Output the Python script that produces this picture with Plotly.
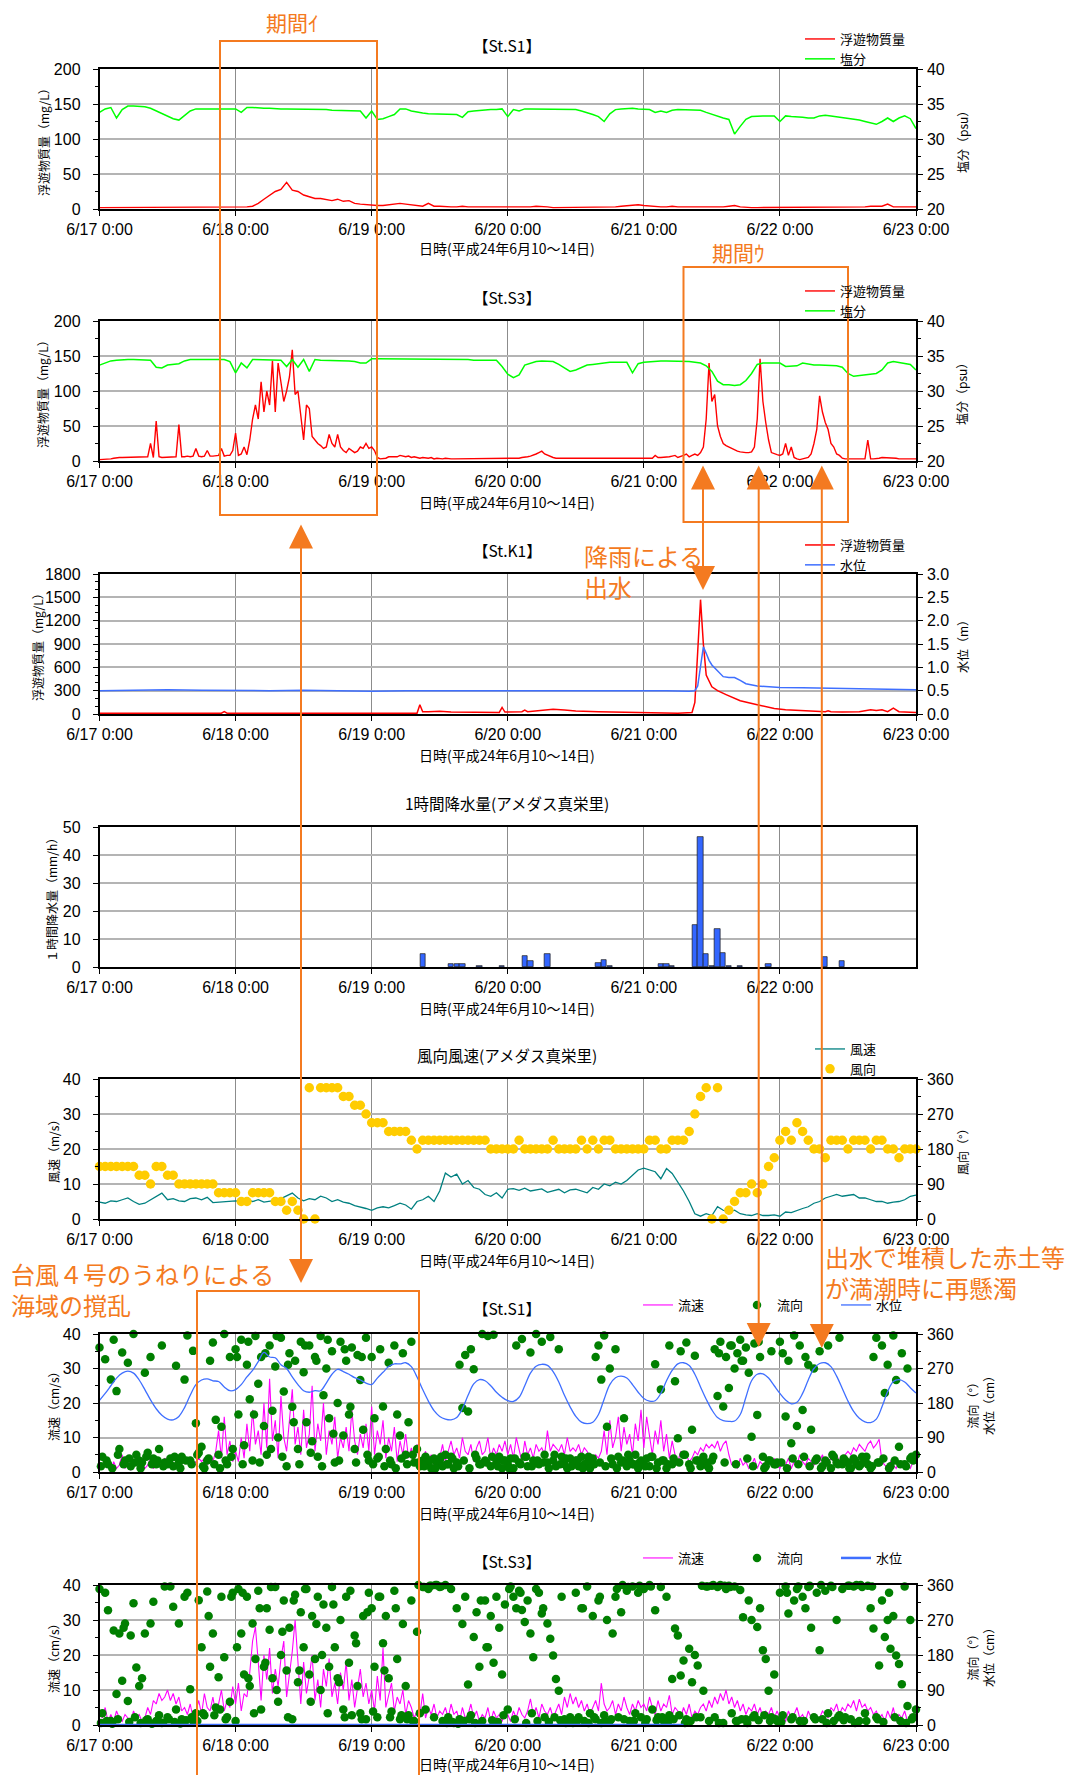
import plotly.graph_objects as go

W, H = 1073, 1775          # browser window
OFF = 8                    # page body margin of the html page
WF, HF = W - OFF, H - OFF  # figure size so that the chart fills the window
JP = "Noto Sans CJK JP"
NUMF = "Liberation Sans, Arial, sans-serif"
ORANGE = "#F47A20"

# ---------------- data ----------------
day_ticks = [0, 24, 48, 72, 96, 120, 144]
day_labels = ["6/17 0:00", "6/18 0:00", "6/19 0:00", "6/20 0:00",
              "6/21 0:00", "6/22 0:00", "6/23 0:00"]
x_title = "日時(平成24年6月10〜14日)"

hours = list(range(145))                    # hourly stamps, h since 6/17 0:00
half_hours = [i / 2 for i in range(289)]    # 30-min stamps
quarter_hours = [h + 0.25 for h in hours]   # hourly stamps offset by 15 min

# St.S1 suspended solids (mg/L), hourly
s1_ss = [2, 2, 2, 2, 2, 2, 2, 2, 3, 3, 3, 3, 3, 3, 3, 3, 3, 3, 3, 3, 3, 3, 3, 3,
         3, 3, 3, 4, 8, 14, 20, 25, 28, 38, 27, 25, 20, 17, 15, 15, 13, 12, 14, 11, 12, 8, 7, 6,
         5, 5, 5, 6, 8, 8, 7, 6, 5, 4, 8, 4, 4, 3, 3, 3, 4, 3, 3, 2, 2, 2, 2, 2,
         2, 2, 2, 2, 3, 4, 4, 3, 2, 2, 2, 2, 2, 3, 3, 3, 3, 3, 3, 3, 4, 5, 6, 6,
         5, 4, 4, 3, 3, 4, 3, 3, 2, 2, 2, 2, 2, 2, 3, 4, 5, 3, 2, 2, 2, 2, 2, 2,
         2, 2, 2, 2, 2, 2, 3, 3, 3, 3, 3, 3, 3, 3, 3, 3, 4, 4, 4, 7, 3, 3, 3, 3, 3]
# St.S1 salinity (psu), hourly
s1_sal = [33.8, 34.3, 34.5, 33.0, 34.2, 34.7, 34.7, 34.7, 34.6, 34.4, 34.0, 33.7,
          33.3, 32.9, 32.7, 33.4, 34.0, 34.3, 34.3, 34.3, 34.3, 34.2, 34.3, 34.3,
          34.3, 33.8, 34.5, 34.5, 34.4, 34.4, 34.4, 34.3, 34.3, 34.3, 34.3, 34.2,
          34.2, 34.2, 34.2, 34.2, 34.2, 34.1, 34.1, 34.1, 34.1, 34.0, 34.0, 33.0,
          34.0, 32.8, 32.9, 33.2, 33.5, 34.3, 34.3, 34.0, 33.8, 33.7, 33.6, 33.6,
          33.6, 33.5, 33.6, 33.5, 33.1, 33.9, 34.0, 34.1, 34.2, 34.2, 34.2, 34.3,
          33.2, 34.2, 34.0, 34.3, 34.3, 34.3, 34.3, 34.3, 34.3, 34.3, 34.3, 34.3,
          34.2, 34.0, 33.8, 33.5, 33.2, 32.5, 33.6, 34.2, 34.3, 34.4, 34.4, 34.3,
          34.3, 34.2, 33.8, 34.0, 33.8, 34.1, 34.2, 34.2, 34.2, 34.2, 34.1, 33.8,
          33.5, 33.3, 33.0, 32.8, 30.7, 31.8, 32.8, 33.2, 33.3, 33.3, 33.3, 33.3,
          32.5, 33.3, 33.2, 33.2, 33.1, 33.0, 33.0, 33.3, 33.4, 33.3, 33.2, 33.1,
          33.0, 32.8, 32.7, 32.5, 32.3, 32.1, 32.5, 33.0, 32.5, 33.0, 33.3, 32.9, 31.5]

# St.S3 suspended solids (mg/L), 30-min
s3_ss = [2, 2, 2, 3, 3, 4, 5, 5, 5, 5, 5, 6, 5, 5, 5, 5, 5, 6, 25, 5, 57, 6, 5, 5,
         5, 6, 6, 6, 52, 6, 6, 7, 6, 7, 18, 7, 6, 7, 15, 7, 7, 8, 8, 18, 7, 8, 8, 15,
         40, 8, 10, 20, 9, 30, 60, 80, 60, 113, 70, 100, 80, 143, 70, 140, 110, 85, 100, 120, 159, 95, 100, 60,
         30, 80, 75, 35, 30, 25, 22, 18, 20, 38, 25, 20, 38, 20, 15, 12, 18, 15, 12, 14, 20, 18, 25, 18,
         20, 15, 5, 3, 3, 4, 6, 6, 7, 6, 8, 7, 6, 7, 5, 6, 5, 4, 5, 4, 4, 5, 3, 4,
         3, 3, 4, 3, 3, 3, 3, 4, 3, 3, 3, 3, 3, 3, 3, 3, 4, 3, 3, 3, 3, 3, 3, 3,
         3, 3, 3, 4, 4, 5, 5, 6, 7, 8, 10, 12, 14, 10, 8, 6, 5, 4, 4, 3, 3, 3, 3, 3,
         3, 3, 3, 3, 3, 4, 3, 3, 3, 3, 3, 3, 3, 4, 3, 3, 3, 3, 3, 3, 4, 3, 3, 3,
         3, 3, 4, 4, 8, 5, 5, 5, 5, 6, 7, 8, 5, 6, 8, 10, 6, 8, 10, 8, 12, 20, 60, 140,
         85, 95, 50, 35, 25, 22, 20, 18, 15, 14, 13, 12, 12, 12, 13, 20, 60, 146, 85, 55, 30, 12, 10, 9,
         8, 10, 25, 8, 20, 5, 3, 2, 3, 4, 5, 10, 25, 45, 93, 70, 55, 45, 25, 20, 10, 8, 4, 3,
         3, 3, 3, 3, 3, 3, 3, 30, 3, 3, 3, 4, 5, 5, 4, 5, 5, 4, 3, 3, 4, 3, 3, 3,
         3]
# St.S3 salinity (psu), hourly
s3_sal = [33.7, 34.0, 34.3, 34.4, 34.5, 34.5, 34.5, 34.5, 34.5, 34.4, 33.4, 33.3,
          33.7, 33.8, 33.9, 34.3, 34.5, 34.5, 34.5, 34.5, 34.5, 34.5, 34.5, 34.2,
          32.6, 34.0, 33.3, 34.5, 34.5, 34.5, 34.5, 34.5, 34.4, 33.5, 34.5, 33.4,
          34.5, 32.8, 34.5, 34.4, 34.4, 34.4, 34.4, 34.4, 34.3, 34.2, 34.0, 34.0,
          34.6, 34.6, 34.6, 34.6, 34.6, 34.6, 34.6, 34.6, 34.6, 34.6, 34.6, 34.6,
          34.6, 34.5, 34.5, 34.5, 34.5, 34.5, 34.4, 34.4, 34.4, 34.4, 34.4, 33.5,
          32.4, 31.9, 32.3, 33.7, 34.0, 34.2, 34.3, 34.3, 34.2, 33.8, 33.3, 32.8,
          33.0, 33.3, 33.7, 33.8, 33.9, 34.1, 34.1, 34.1, 34.1, 34.1, 32.6, 33.9,
          34.1, 34.2, 34.2, 34.3, 34.3, 34.3, 34.3, 34.3, 34.2, 34.1, 34.0, 33.6,
          32.8, 31.4, 30.9, 30.9, 30.8, 30.9, 31.5, 32.5, 33.8, 34.0, 34.0, 34.0,
          34.0, 33.5, 33.5, 33.6, 34.0, 33.8, 33.7, 33.7, 33.7, 33.7, 33.6, 33.4,
          32.5, 32.1, 32.2, 32.3, 32.4, 32.5, 33.0, 34.0, 34.2, 34.1, 34.0, 33.8, 33.0]

# St.K1 suspended solids (mg/L) and water level (m), irregular stamps
k1_ss_t = [0, 10, 21.5, 22, 22.5, 30, 40, 50, 56, 56.5, 57, 58, 60, 62, 66, 70.5, 71, 71.5,
           74.5, 75, 75.5, 78, 80, 82, 84, 88, 93, 96, 99, 102, 104.5, 105, 105.5, 106, 106.5,
           107, 108, 109, 110.5, 113, 116, 117, 119, 121, 124, 126, 128, 128.5, 129, 131, 134,
           136, 137, 138, 139, 140, 141, 144]
k1_ss = [10, 10, 10, 30, 10, 10, 10, 10, 10, 120, 30, 30, 35, 25, 20, 20, 85, 25,
         30, 50, 30, 45, 60, 50, 40, 30, 25, 20, 15, 10, 20, 150, 800, 1470, 900,
         500, 350, 300, 250, 170, 120, 100, 70, 55, 45, 40, 30, 40, 30, 25, 30,
         55, 45, 55, 30, 75, 30, 20]
k1_lv_t = [0, 6, 12, 18, 24, 30, 36, 42, 48, 54, 60, 66, 72, 78, 84, 90, 96, 100, 104, 105,
           105.5, 106, 106.5, 107, 107.5, 108, 109, 110, 111, 112, 113, 114, 116, 118, 120,
           124, 128, 132, 136, 140, 144]
k1_lv = [0.50, 0.51, 0.52, 0.51, 0.50, 0.50, 0.51, 0.50, 0.49, 0.50, 0.50, 0.51, 0.51, 0.50,
         0.50, 0.50, 0.50, 0.50, 0.49, 0.50, 0.60, 1.00, 1.44, 1.30, 1.15, 1.05, 0.92, 0.80,
         0.78, 0.78, 0.72, 0.65, 0.60, 0.58, 0.57, 0.56, 0.55, 0.54, 0.53, 0.52, 0.52]

# hourly precipitation (AMeDAS Maezato), only non-zero hours
rain_hour = [57, 62, 63, 64, 67, 71, 75, 76, 79, 88, 89, 90, 99, 100, 101,
             105, 106, 107, 108, 109, 110, 111, 113, 118, 128, 131]
rain_mm = [4.5, 1, 1, 1, 0.5, 0.5, 4, 2, 4.5, 1.5, 2.5, 0.5, 1, 1, 0.5,
           15, 46.5, 4.5, 0.5, 13.5, 5, 0.5, 0.5, 1, 3.5, 2]

# wind speed (m/s) and direction (deg), hourly
wind_spd = [4.8, 4.5, 5.2, 5.0, 5.5, 6.0, 5.0, 4.2, 4.5, 5.5, 6.5, 7.4,
            5.5, 5.8, 5.2, 5.0, 5.8, 6.0, 5.5, 6.2, 4.7, 4.8, 5.0, 5.2,
            5.2, 5.0, 5.4, 5.0, 5.5, 4.8, 5.0, 5.3, 5.8, 6.5, 7.4, 6.0,
            5.2, 5.8, 5.5, 6.5, 6.0, 5.0, 5.5, 4.8, 4.5, 3.8, 3.5, 3.0,
            2.5, 3.2, 3.5, 3.2, 3.8, 4.5, 4.0, 2.8, 5.0, 5.5, 6.5, 5.0,
            8.0, 13.1, 12.0, 12.8, 10.0, 11.0, 9.0, 8.5, 7.0, 6.5, 7.5, 6.0,
            8.5, 8.7, 8.2, 8.8, 8.0, 8.4, 8.6, 7.6, 8.0, 8.5, 7.5, 8.3,
            8.5, 8.0, 7.5, 9.0, 8.5, 10.0, 9.5, 10.5, 10.0, 11.0, 12.5, 14.0,
            14.5, 14.0, 13.5, 11.5, 14.4, 13.0, 10.5, 8.0, 5.0, 1.5, 0.8, 1.5,
            1.0, 3.5, 2.5, 2.0, 2.5, 1.5, 1.2, 1.0, 1.5, 1.0, 1.0, 1.2,
            0.8, 2.0, 1.8, 2.5, 3.0, 3.5, 4.5, 5.0, 6.0, 6.5, 7.0, 6.5,
            6.8, 7.0, 6.0, 6.0, 5.5, 5.0, 5.0, 4.5, 4.8, 5.0, 5.5, 6.5, 6.8]
wind_dir = [135, 135, 135, 135, 135, 135, 135, 112.5, 112.5, 90, 135, 135,
            112.5, 112.5, 90, 90, 90, 90, 90, 90, 90, 67.5, 67.5, 67.5,
            67.5, 45, 45, 67.5, 67.5, 67.5, 67.5, 45, 45, 22.5, 45, 22.5,
            0, 337.5, 0, 337.5, 337.5, 337.5, 337.5, 315, 315, 292.5, 292.5, 270,
            247.5, 247.5, 247.5, 225, 225, 225, 225, 202.5, 180, 202.5, 202.5, 202.5,
            202.5, 202.5, 202.5, 202.5, 202.5, 202.5, 202.5, 202.5, 202.5, 180, 180, 180,
            180, 180, 202.5, 180, 180, 180, 180, 180, 202.5, 180, 180, 180,
            180, 202.5, 180, 202.5, 180, 202.5, 202.5, 180, 180, 180, 180, 180,
            180, 202.5, 202.5, 180, 180, 202.5, 202.5, 202.5, 225, 270, 315, 337.5,
            0, 337.5, 0, 22.5, 45, 67.5, 67.5, 90, 67.5, 90, 135, 157.5,
            202.5, 225, 202.5, 247.5, 225, 202.5, 180, 180, 157.5, 202.5, 202.5, 202.5,
            180, 202.5, 202.5, 202.5, 180, 202.5, 202.5, 180, 180, 157.5, 180, 180, 180]

# St.S1 current: speed (cm/s, 30-min), direction (deg, 30-min + extra hourly), level (cm, hourly)
s1_spd = [3, 1, 4, 2, 0.5, 3, 1, 2, 5, 1, 3, 0.5, 2, 4, 1, 3, 1, 2, 4, 1, 2, 3, 1, 4,
          3, 2, 4, 3, 2, 4, 3, 3, 4, 2, 3, 4, 3, 4, 2, 5, 3, 6, 12, 4, 16, 5, 9, 3,
          6, 3, 10, 4, 14, 6, 18, 8, 12, 5, 20, 7, 27, 9, 15, 4, 22, 10, 6, 16, 24, 8, 13, 5,
          18, 7, 11, 25, 6, 14, 9, 20, 5, 12, 8, 16, 4, 10, 7, 13, 6, 18, 9, 5, 11, 7, 14, 6,
          19, 5, 12, 8, 15, 4, 10, 6, 13, 3, 9, 5, 11, 4, 7, 3, 8, 2, 4, 6, 3, 5, 2, 4,
          4, 8, 3, 6, 9, 5, 7, 4, 10, 6, 5, 8, 3, 7, 9, 5, 6, 10, 4, 7, 5, 8, 6, 9,
          5, 8, 4, 10, 6, 3, 9, 5, 7, 4, 8, 6, 7, 5, 12, 6, 8, 7, 6, 8, 5, 10, 6, 7,
          6, 8, 5, 7, 6, 4, 3, 5, 4, 6, 12, 5, 15, 7, 10, 16, 6, 13, 8, 11, 5, 14, 9, 18,
          7, 16, 10, 5, 12, 8, 15, 6, 11, 4, 9, 5, 3, 6, 4, 5, 3, 4, 6, 5, 7, 6, 8, 7,
          8, 7, 9, 6, 8, 9, 5, 2, 3, 1, 4, 2, 3, 1, 2, 4, 1, 3, 2, 1, 3, 2, 4, 2,
          1, 3, 2, 4, 1, 3, 2, 5, 3, 2, 4, 3, 2, 4, 3, 5, 2, 3, 4, 3, 5, 3, 4, 5,
          6, 5, 7, 6, 8, 7, 6, 8, 9, 7, 8, 9.5, 3, 2, 1, 3, 2, 1, 3, 2, 1, 2, 1, 3,
          5]
s1_dir = [325, 40, 294, 20, 241, 345, 211, 60, 312, 30, 285, 15, 360, 45, 30, 25, 259, 50, 300, 35, 20, 60, 330, 25,
          20, 35, 15, 277, 25, 40, 241, 356, 30, 316, 127, 50, 66, 10, 30, 290, 338, 136, 45, 118, 360, 20, 300, 60,
          320, 150, 345, 70, 280, 190, 30, 355, 230, 300, 120, 45, 330, 160, 275, 90, 350, 210, 15, 310, 170, 290, 60, 340,
          260, 130, 330, 80, 300, 40, 355, 200, 270, 140, 315, 25, 180, 340, 95, 290, 150, 325, 60, 305, 240, 110, 350, 30,
          300, 140, 35, 320, 171, 60, 285, 20, 330, 150, 95, 310, 45, 130, 340, 25, 60, 15, 30, 40, 20, 10, 35, 25,
          30, 15, 45, 20, 40, 10, 25, 280, 167, 305, 158, 320, 268, 35, 20, 360, 30, 355, 15, 358, 25, 40, 10, 30,
          20, 35, 10, 330, 25, 347, 40, 15, 312, 30, 360, 20, 340, 45, 25, 352, 30, 15, 320, 40, 20, 10, 35, 25,
          30, 15, 40, 20, 25, 10, 35, 300, 330, 241, 356, 118, 270, 20, 320, 40, 25, 140, 15, 30, 20, 45, 10, 30,
          20, 35, 15, 40, 281, 25, 215, 30, 10, 330, 20, 237, 88, 315, 45, 338, 20, 110, 303, 30, 15, 40, 25, 10,
          30, 320, 198, 340, 171, 300, 219, 330, 270, 310, 345, 290, 325, 259, 92, 335, 149, 300, 40, 15, 30, 315, 20, 25,
          340, 310, 145, 290, 75, 356, 120, 330, 162, 300, 280, 110, 270, 35, 315, 15, 30, 330, 10, 40, 25, 350, 20, 30,
          25, 10, 35, 20, 15, 40, 30, 20, 10, 300, 350, 25, 330, 206, 280, 15, 356, 240, 66, 310, 20, 270, 35, 30,
          45]
s1_dir_b = [15, 30, 10, 45, 20, 35, 25, 10, 40, 20, 30, 15,
            25, 40, 10, 30, 20, 45, 15, 35, 20, 10, 30, 40,
            300, 20, 340, 150, 25, 310, 60, 355, 40, 280, 130, 20,
            330, 50, 290, 15, 345, 100, 30, 320, 170, 25, 300, 45,
            20, 40, 15, 30, 10, 35, 20, 45, 25, 15, 30, 10,
            40, 20, 35, 15, 30, 10, 45, 20, 25, 40, 15, 30,
            10, 35, 20, 40, 15, 30, 25, 10, 45, 20, 35, 15,
            30, 10, 40, 20, 25, 15, 35, 10, 30, 45, 20, 25,
            15, 40, 10, 30, 20, 35, 25, 45, 10, 30, 20, 15,
            40, 310, 25, 330, 20, 290, 35, 15, 340, 10, 30, 20,
            25, 10, 35, 20, 40, 15, 30, 10, 25, 45, 20, 35,
            10, 30, 20, 40, 15, 25, 35, 10, 30, 20, 15, 40, 25]
s1_lv = [187, 205, 225, 245, 258, 263, 258, 240, 215, 188, 165, 148,
         138, 136, 145, 168, 200, 228, 240, 243, 238, 236, 222, 212,
         215, 228, 248, 265, 288, 312, 300, 298, 280, 270, 248, 228,
         212, 208, 212, 212, 232, 255, 268, 262, 255, 246, 240, 232,
         228, 245, 260, 275, 282, 282, 285, 275, 248, 215, 185, 160,
         145, 138, 136, 142, 165, 200, 230, 241, 238, 225, 208, 195,
         186, 184, 195, 225, 258, 276, 281, 278, 262, 235, 200, 170,
         145, 130, 126, 130, 150, 190, 228, 246, 250, 245, 228, 208,
         192, 185, 186, 205, 238, 265, 282, 285, 278, 255, 222, 190,
         162, 142, 134, 132, 133, 150, 195, 238, 255, 256, 245, 225,
         205, 188, 178, 182, 205, 240, 270, 283, 285, 275, 250, 218,
         185, 158, 140, 131, 129, 138, 170, 210, 236, 241, 235, 220, 206]

# St.S3 current
s3_spd = [4, 2, 5, 1, 3, 1, 4, 2, 1, 3, 2, 1, 4, 2, 3, 1, 2, 5, 3, 7, 6, 9, 7, 8,
          10, 7, 9, 6, 8, 4, 5, 3, 6, 2, 4, 7, 3, 9, 5, 4, 8, 3, 6, 10, 4, 7, 5, 11,
          6, 12, 4, 9, 8, 15, 24, 28, 18, 7, 20, 13, 22, 9, 16, 11, 19, 24, 8, 14, 21, 30, 17, 6,
          18, 9, 14, 20, 7, 13, 5, 16, 11, 19, 8, 12, 6, 15, 10, 18, 7, 13, 5, 11, 16, 8, 12, 6,
          10, 4, 14, 7, 22, 5, 9, 12, 4, 8, 6, 10, 3, 7, 5, 2, 4, 3, 9, 2, 5, 3, 6, 2,
          4, 3, 5, 2, 6, 3, 4, 1, 5, 2, 3, 6, 2, 4, 1, 3, 2, 5, 1, 4, 2, 3, 1, 4,
          3, 1, 4, 2, 5, 3, 2, 4, 7.5, 3, 5, 2, 6, 4, 3, 5, 2, 4, 6, 3, 8, 5, 9, 6,
          8, 5, 7, 4, 6, 3, 5, 7, 4, 12, 6, 4, 5, 7, 3, 6, 4, 8, 5, 3, 6, 4, 7, 5,
          6, 4, 8, 5, 3, 7, 4, 6, 5, 8.5, 3, 5, 4, 2, 5, 3, 6, 2, 4, 3, 5, 6, 4, 7,
          5, 8, 6, 9, 7, 10, 6, 8, 5, 7, 4, 6, 3, 5, 4, 6, 3, 5, 2, 4, 3, 5, 2, 4,
          2, 3, 1, 4, 2, 3, 5, 2, 3, 1, 4, 2, 3, 1, 2, 4, 3, 2, 5, 4, 6, 3, 5, 4,
          6, 5, 7, 4, 7.4, 5, 6, 4, 5, 3, 4, 2, 3, 1, 4, 2, 5, 1, 3, 2, 4, 1, 3, 2,
          4]
s3_dir = [350, 30, 340, 295, 10, 243, 80, 235, 114, 261, 62, 230, 313, 148, 100, 120, 235, 15, 261, 317, 10, 25, 5, 356,
          20, 356, 304, 40, 261, 15, 330, 340, 92, 10, 30, 321, 200, 25, 343, 150, 235, 45, 123, 330, 174, 20, 60, 340,
          10, 350, 235, 130, 330, 100, 261, 170, 345, 40, 150, 300, 245, 120, 355, 60, 180, 320, 140, 250, 15, 335, 110, 290,
          200, 350, 130, 280, 170, 330, 90, 310, 250, 150, 355, 200, 120, 270, 40, 330, 160, 25, 230, 100, 30, 280, 15, 340,
          300, 150, 20, 330, 210, 280, 120, 35, 345, 170, 15, 260, 100, 25, 320, 10, 240, 30, 355, 40, 350, 358, 20, 360,
          355, 10, 360, 20, 350, 5, 300, 15, 260, 330, 104, 25, 226, 290, 150, 10, 320, 200, 280, 160, 330, 250, 130, 310,
          40, 356, 330, 300, 345, 296, 265, 320, 235, 174, 350, 340, 287, 20, 261, 222, 179, 118, 88, 330, 15, 10, 20, 5,
          340, 20, 300, 10, 356, 30, 280, 15, 320, 5, 25, 270, 10, 235, 330, 20, 290, 15, 345, 10, 356, 30, 340, 20,
          350, 15, 360, 40, 295, 20, 355, 10, 330, 25, 118, 248, 230, 127, 166, 15, 196, 110, 180, 153, 20, 88, 356, 10,
          358, 20, 355, 360, 5, 350, 358, 30, 356, 10, 347, 277, 15, 320, 270, 25, 252, 300, 192, 170, 88, 20, 130, 10,
          340, 25, 356, 287, 15, 320, 350, 10, 330, 300, 355, 250, 20, 340, 192, 15, 345, 30, 358, 10, 270, 25, 350, 20,
          358, 15, 356, 360, 10, 355, 30, 358, 300, 248, 20, 153, 320, 226, 270, 196, 280, 179, 157, 105, 356, 49, 270, 20,
          40]
s3_dir_b = [5, 10, 3, 15, 250, 8, 20, 5, 12, 3, 10, 6,
            15, 8, 4, 12, 20, 10, 30, 280, 25, 40, 15, 330,
            200, 340, 120, 30, 300, 160, 355, 90, 240, 20, 320, 140,
            350, 60, 260, 180, 30, 310, 110, 20, 345, 210, 15, 290,
            35, 330, 140, 20, 300, 25, 15, 10, 360, 355, 358, 360,
            356, 5, 8, 3, 10, 15, 5, 320, 200, 12, 8, 25,
            350, 15, 340, 5, 30, 10, 300, 8, 20, 12, 5, 15,
            10, 300, 5, 20, 330, 8, 15, 350, 360, 355, 10, 358,
            5, 356, 12, 20, 8, 15, 25, 5, 10, 20, 358, 356,
            360, 5, 358, 355, 10, 15, 5, 20, 12, 25, 10, 15,
            8, 340, 20, 356, 10, 358, 15, 360, 5, 355, 20, 12,
            358, 5, 360, 10, 356, 15, 8, 340, 20, 10, 5, 15, 10]
s3_lv_t = [0, 103]
s3_lv = [0, 0]

# ---------------- layout geometry (window px) ----------------
XL, XR = 99.5, 916
panels = [(69, 209), (321, 461), (574, 714), (827, 967), (1079, 1219), (1334, 1472), (1585, 1725)]


def sfx(k):
    return "" if k == 1 else str(k)


def fx(px):
    return (px - OFF) / WF


def fy(py):
    return 1 - (py - OFF) / HF


tickfont = dict(family=NUMF, size=16, color="black")
GRID_X = "#8C8C8C"
GRID_Y = "#B4B4B4"
GREEN_DOT = "#007F00"

fig = go.Figure()
add = fig.add_trace

# Panel 1 : St.S1 SS / salinity
add(go.Scatter(x=hours, y=s1_ss, xaxis="x", yaxis="y", mode="lines", name="浮遊物質量",
               line=dict(color="#FF0000", width=1.4), legend="legend"))
add(go.Scatter(x=hours, y=s1_sal, xaxis="x", yaxis="y8", mode="lines", name="塩分",
               line=dict(color="#00FF00", width=1.5), legend="legend"))
# Panel 2 : St.S3
add(go.Scatter(x=half_hours, y=s3_ss, xaxis="x2", yaxis="y2", mode="lines", name="浮遊物質量",
               line=dict(color="#FF0000", width=1.4), legend="legend2"))
add(go.Scatter(x=hours, y=s3_sal, xaxis="x2", yaxis="y9", mode="lines", name="塩分",
               line=dict(color="#00FF00", width=1.5), legend="legend2"))
# Panel 3 : St.K1
add(go.Scatter(x=k1_ss_t, y=k1_ss, xaxis="x3", yaxis="y3", mode="lines", name="浮遊物質量",
               line=dict(color="#FF0000", width=1.5), legend="legend3"))
add(go.Scatter(x=k1_lv_t, y=k1_lv, xaxis="x3", yaxis="y10", mode="lines", name="水位",
               line=dict(color="#3F6FFF", width=1.5), legend="legend3"))
# Panel 4 : rain
add(go.Bar(x=rain_hour, y=rain_mm, xaxis="x4", yaxis="y4", width=0.95, showlegend=False,
           marker=dict(color="#3366FF", line=dict(color="#1A1A1A", width=0.7))))
# Panel 5 : wind
add(go.Scatter(x=hours, y=wind_spd, xaxis="x5", yaxis="y5", mode="lines", name="風速",
               line=dict(color="#008080", width=1.3), legend="legend4"))
add(go.Scatter(x=hours, y=wind_dir, xaxis="x5", yaxis="y12", mode="markers", name="風向",
               marker=dict(color="#FFCC00", size=9.5), cliponaxis=False, legend="legend4"))
# Panel 6 : St.S1 current
add(go.Scatter(x=half_hours, y=s1_spd, xaxis="x6", yaxis="y6", mode="lines", name="流速",
               line=dict(color="#FF00FF", width=1.1), legend="legend5"))
add(go.Scatter(x=half_hours + quarter_hours, y=s1_dir + s1_dir_b, xaxis="x6", yaxis="y13",
               mode="markers", name="流向", marker=dict(color=GREEN_DOT, size=8.5),
               cliponaxis=False, legend="legend5"))
add(go.Scatter(x=hours, y=s1_lv, xaxis="x6", yaxis="y13", mode="lines", name="水位",
               line=dict(color="#3F6FFF", width=1.3, shape="spline"), legend="legend5"))
# Panel 7 : St.S3 current
add(go.Scatter(x=half_hours, y=s3_spd, xaxis="x7", yaxis="y7", mode="lines", name="流速",
               line=dict(color="#FF00FF", width=1.1), legend="legend6"))
add(go.Scatter(x=half_hours + quarter_hours, y=s3_dir + s3_dir_b, xaxis="x7", yaxis="y14",
               mode="markers", name="流向", marker=dict(color=GREEN_DOT, size=8.5),
               cliponaxis=False, legend="legend6"))
add(go.Scatter(x=s3_lv_t, y=s3_lv, xaxis="x7", yaxis="y14", mode="lines", name="水位",
               line=dict(color="#3F6FFF", width=2.5), cliponaxis=False, legend="legend6"))

layout = dict(width=WF, height=HF, autosize=False,
              margin=dict(l=0, r=0, t=0, b=0, pad=0, autoexpand=False),
              paper_bgcolor="white", plot_bgcolor="white", showlegend=True, bargap=0)

left_cfg = {1: ([0, 200], 50, 25), 2: ([0, 200], 50, 25), 3: ([0, 1800], 300, 100),
            4: ([0, 50], 10, None), 5: ([0, 40], 10, 5), 6: ([0, 40], 10, 5), 7: ([0, 40], 10, 5)}
right_cfg = {1: ([20, 40], 5, 2.5), 2: ([20, 40], 5, 2.5), 3: ([0, 3], 0.5, None),
             5: ([0, 360], 90, 45), 6: ([0, 360], 90, 45), 7: ([0, 360], 90, 45)}

for i, (top, bot) in enumerate(panels):
    k = i + 1
    vals, labs = (day_ticks[:6], day_labels[:6]) if k == 4 else (day_ticks, day_labels)
    layout["xaxis" + sfx(k)] = dict(
        domain=[fx(XL), fx(XR)], range=[0, 144], anchor="y" + sfx(k), tickmode="array",
        tickvals=vals, ticktext=labs, showgrid=True, gridcolor=GRID_X, gridwidth=1,
        showline=True, mirror=True, linecolor="black", linewidth=2, ticks="outside",
        ticklen=5, tickcolor="black", tickfont=tickfont, zeroline=False, automargin=False,
        ticklabelstandoff=0)
    rng, dt, mn = left_cfg[k]
    ya = dict(domain=[fy(bot), fy(top)], anchor="x" + sfx(k), range=rng, dtick=dt, tick0=0,
              showgrid=True, gridcolor=GRID_Y, gridwidth=1.6, showline=True, mirror=True,
              linecolor="black", linewidth=1.5, ticks="outside", ticklen=5, tickcolor="black",
              tickfont=tickfont, zeroline=False, automargin=False, ticklabelstandoff=9)
    if mn:
        ya["minor"] = dict(dtick=mn, ticks="outside", ticklen=3, tickcolor="black", showgrid=False)
    layout["yaxis" + sfx(k)] = ya
    if k in right_cfg:
        rng, dt, mn = right_cfg[k]
        yr = dict(domain=[fy(bot), fy(top)], anchor="x" + sfx(k), overlaying="y" + sfx(k),
                  side="right", range=rng, dtick=dt, tick0=rng[0], showgrid=False, showline=True,
                  linecolor="black", linewidth=1.5, ticks="outside", ticklen=5, tickcolor="black",
                  tickfont=tickfont, zeroline=False, automargin=False, ticklabelstandoff=1)
        if k == 3:
            yr["tickformat"] = ".1f"
        if mn:
            yr["minor"] = dict(dtick=mn, ticks="outside", ticklen=3, tickcolor="black", showgrid=False)
        layout["yaxis" + str(k + 7)] = yr


def legend_box(xpx, ypx, horizontal=False):
    d = dict(x=fx(xpx), y=fy(ypx), xanchor="left", yanchor="top", bgcolor="rgba(0,0,0,0)",
             borderwidth=0, font=dict(family=JP, size=13, color="black"), tracegroupgap=0,
             itemwidth=30)
    if horizontal:
        d.update(orientation="h", entrywidth=54, entrywidthmode="pixels")
    return d


layout["legend"] = legend_box(800, 24)
layout["legend2"] = legend_box(800, 276)
layout["legend3"] = legend_box(800, 530)
layout["legend4"] = legend_box(810, 1034)
layout["legend5"] = legend_box(638, 1290, True)
layout["legend6"] = legend_box(638, 1543, True)

ann = []


def text(xpx, ypx, t, size, color="black", xanchor="center", angle=0, family=JP, align="center"):
    ann.append(dict(x=fx(xpx), y=fy(ypx), xref="paper", yref="paper", text=t, showarrow=False,
                    font=dict(family=family, size=size, color=color), xanchor=xanchor,
                    yanchor="middle", textangle=angle, align=align))


titles = ["【St.S1】", "【St.S3】", "【St.K1】", "1時間降水量(アメダス真栄里)",
          "風向風速(アメダス真栄里)", "【St.S1】", "【St.S3】"]
title_y = [45, 297, 550, 803, 1055, 1308, 1561]
xt_y = [248, 502, 755, 1008, 1260, 1513, 1764]
for k in range(7):
    text(507, title_y[k], titles[k], 15.5)
    text(507, xt_y[k], x_title, 14)

left_titles = ["浮遊物質量（mg/L）", "浮遊物質量（mg/L）", "浮遊物質量（mg/L）",
               "１時間降水量（mm/h）", "風速（m/s）", "流速（cm/s）", "流速（cm/s）"]
left_x = [43, 43, 37, 51, 53, 53, 53]
right_titles = {1: "塩分（psu）", 2: "塩分（psu）", 3: "水位（m）", 5: "風向（°）",
                6: "流向（°）<br>水位（cm）", 7: "流向（°）<br>水位（cm）"}
for i, (top, bot) in enumerate(panels):
    k = i + 1
    cy = (top + bot) / 2
    text(left_x[i], cy, left_titles[i], 12, angle=-90)
    if k in right_titles:
        rx = 980 if k >= 6 else 962
        text(rx, cy, right_titles[k], 12, angle=-90)

# orange commentary
text(292, 22, "期間ｲ", 21, color=ORANGE)
text(738, 252, "期間ｳ", 21, color=ORANGE)
text(582, 571, "降雨による<br>出水", 24, color=ORANGE, xanchor="left", align="left")
text(9, 1289, "台風４号のうねりによる<br>海域の撹乱", 24, color=ORANGE, xanchor="left", align="left")
text(823, 1272, "出水で堆積した赤土等<br>が満潮時に再懸濁", 24, color=ORANGE, xanchor="left", align="left")


def arrow(xpx, y_tail, y_head):
    ann.append(dict(x=fx(xpx), y=fy(y_head), xref="paper", yref="paper", ax=0, ay=y_tail - y_head,
                    axref="pixel", ayref="pixel", showarrow=True, text="", arrowhead=2,
                    startarrowhead=2, arrowside="end+start", arrowsize=2.4, startarrowsize=2.4,
                    arrowwidth=2, arrowcolor=ORANGE))


arrow(301, 523, 1283)
arrow(703, 464, 590)
arrow(758.7, 464, 1347)
arrow(821.8, 464, 1348)
layout["annotations"] = ann


def rect(x0, x1, y0, y1):
    return dict(type="rect", xref="paper", yref="paper", x0=fx(x0), x1=fx(x1), y0=fy(y1), y1=fy(y0),
                line=dict(color=ORANGE, width=2), fillcolor="rgba(0,0,0,0)", layer="above")


layout["shapes"] = [rect(220, 377, 41, 515), rect(683.5, 848, 267, 522), rect(197, 419, 1291, 1800)]

fig.update_layout(**layout)
fig.write_html("out.html")
